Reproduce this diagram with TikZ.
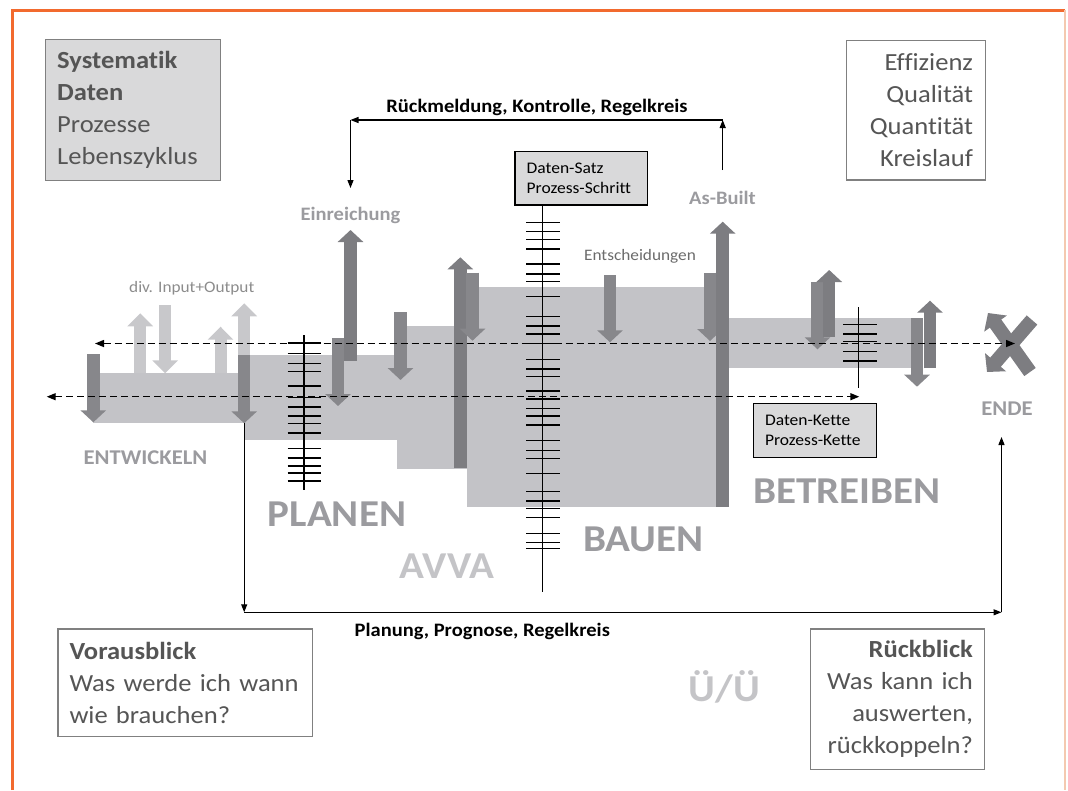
\documentclass[tikz,border=0pt]{standalone}
\usepackage{fontspec}
\setmainfont{Carlito}[FakeStretch=1.08, Ligatures=NoCommon]
\usetikzlibrary{arrows.meta,positioning}
\definecolor{frameorange}{HTML}{F26A2E}
\definecolor{framepeach}{HTML}{F4C9B0}
\definecolor{bandgray}{HTML}{C3C3C7}
\definecolor{lightbar}{HTML}{C8C8CB}
\definecolor{darkbar}{HTML}{7D7D81}
\definecolor{downbar}{HTML}{87878B}
\definecolor{phasegray}{HTML}{9B9B9F}
\definecolor{palegray}{HTML}{C4C4C7}
\definecolor{boxtext}{HTML}{555555}
\definecolor{boxfill}{HTML}{D9D9DA}
\definecolor{boxline}{HTML}{808080}

\begin{document}
\begin{tikzpicture}[x=1pt, y=-1pt,
        band/.style={fill=bandgray, draw=none},
        uparr/.style={line width=12.5pt, draw=darkbar, -{Triangle[length=12pt,width=25pt]}},
        downarr/.style={line width=12.5pt, draw=downbar, -{Triangle[length=12pt,width=25pt]}},
        ioarr/.style={line width=12pt, draw=lightbar, -{Triangle[length=13pt,width=25pt]}},
        endarr/.style={line width=14pt, draw=darkbar, -{Triangle[length=13pt,width=27pt]}},
        chainline/.style={dash pattern=on 7pt off 4pt, line width=1.4pt, {Triangle[length=9pt,width=7pt]}-{Triangle[length=9pt,width=7pt]}},
        ctrl/.style={line width=1.2pt, -{Triangle[length=8pt,width=6pt]}},
        rung/.style={line width=1.2pt},
        infobox/.style={rectangle, draw=boxline, line width=1.3pt, text=boxtext, font=\fontsize{24.6}{32}\selectfont, inner sep=0pt},
        databox/.style={rectangle, draw=black, line width=1.2pt, fill=boxfill, font=\fontsize{16.2}{20.5}\selectfont, align=left, inner sep=0pt},
        phase/.style={font=\bfseries\fontsize{38}{40}\selectfont, text=phasegray, anchor=base},
        milestone/.style={font=\bfseries\fontsize{19}{22}\selectfont, text=phasegray, anchor=base},
        loopname/.style={font=\bfseries\fontsize{19}{22}\selectfont, anchor=base},
        note/.style={font=\fontsize{16}{19}\selectfont, anchor=base},
      ]
      \useasboundingbox (0,0) rectangle (1068,790);
      \draw [frameorange, line width=3pt] (12,790) -- (12,10) -- (1065,10);
      \draw [framepeach, line width=1.5pt] (1065,10) -- (1065,790);

      \fill [band] (93,373) rectangle (245,423);
      \fill [band] (245,355) rectangle (397,440);
      \fill [band] (397,326) rectangle (467,469);
      \fill [band] (467,287) rectangle (728,507);
      \fill [band] (728,318) rectangle (912,368);

      \draw [ioarr] (140.2,373) -- (140.2,313.3);
      \draw [ioarr] (165.2,305) -- (165.2,373.3);
      \draw [ioarr] (220.5,373) -- (220.5,326.7);
      \draw [ioarr] (244.2,355) -- (244.2,303.3);

      \draw [downarr] (93.3,354.3) -- (93.3,422.3);
      \draw [downarr] (244.2,355) -- (244.2,423.3);
      \draw [uparr] (350.5,360.7) -- (350.5,230);
      \draw [downarr] (338,338.3) -- (338,406);
      \draw [downarr] (400.5,312.3) -- (400.5,380);
      \draw [uparr] (460.3,468.3) -- (460.3,257.3);
      \draw [downarr] (472.5,272.7) -- (472.5,340.7);
      \draw [downarr] (610,275) -- (610,342.3);
      \draw [downarr] (710,272.7) -- (710,341);
      \draw [uparr] (722.7,506.7) -- (722.7,221.7);
      \draw [downarr] (817.5,281.7) -- (817.5,349.3);
      \draw [uparr] (829.2,336.7) -- (829.2,270);
      \draw [downarr] (917,318.3) -- (917,386.7);
      \draw [uparr] (930,368.3) -- (930,300.7);

      \draw [endarr] (1030,372) -- (988,313);
      \draw [endarr] (1032,320) -- (987,372);

      \draw [rung] (304,335) -- (304,490);
      \foreach \y in {343,353.5,363.5,371.5,386,397.5,407,416,423.5,433,448.5,458,466,473,481}
        \draw [rung] (287.5,\y) -- (320.5,\y);
      \draw [rung] (542.7,205) -- (542.7,592);
      \foreach \y in {222.3,231.7,239.3,249,264,274,281.7,296.7,316.7,326,334,343.3,359.3,369,376.7,391,399,408.3,416,425,440.7,450.7,458.3,473.3,491.7,501,508.3,517.7,533.3,542.7,548.3}
        \draw [rung] (526,\y) -- (560,\y);
      \draw [rung] (858.3,307) -- (858.3,388);
      \foreach \y in {324.3,334,341.7,351.7,361}
        \draw [rung] (843,\y) -- (876.5,\y);

      \coordinate (chainA) at (95,343.5);
      \coordinate (chainB) at (1015,343.5);
      \coordinate (chainC) at (46.7,396.7);
      \coordinate (chainD) at (859.3,396.7);
      \draw [chainline] (chainA) -- (chainB);
      \draw [chainline] (chainC) -- (chainD);

      \node [infobox, fill=boxfill, minimum width=175pt, minimum height=141pt, text width=152pt, align=left] (systematik) at (133.2,110) {\textbf{Systematik}\\\textbf{Daten}\\Prozesse\\Lebenszyklus};
      \node [infobox, minimum width=139pt, minimum height=139.3pt, text width=113.6pt, align=right] (ziele) at (916.2,110.3) {Effizienz\\Qualität\\Quantität\\Kreislauf};
      \node [infobox, minimum width=254.8pt, minimum height=107.7pt, text width=231.6pt, align=left] (vorausblick) at (185.3,682.8) {\textbf{Vorausblick}\\Was werde ich wann\\wie brauchen?};
      \node [infobox, minimum width=173.7pt, minimum height=140.3pt, text width=150.7pt, align=right] (rueckblick) at (897.5,699.2) {\textbf{Rückblick}\\Was kann ich\\auswerten,\\rückkoppeln?};
      \node [databox, minimum width=132.7pt, minimum height=53.3pt, text width=109.3pt] (datensatz) at (581.3,178.3) {Daten-Satz\\Prozess-Schritt};
      \node [databox, minimum width=123.3pt, minimum height=54pt, text width=99.9pt] (datenkette) at (815,430.3) {Daten-Kette\\Prozess-Kette};

      \node [phase, font=\bfseries\fontsize{21}{24}\selectfont] (entwickeln) at (145.5,464) {ENTWICKELN};
      \node [phase] (planen) at (337,526.7) {PLANEN};
      \node [phase, text=palegray] (avva) at (447,578.3) {AVVA};
      \node [phase] (bauen) at (643.3,551.7) {BAUEN};
      \node [phase] (betreiben) at (847.2,503) {BETREIBEN};
      \node [phase, text=palegray] (ueue) at (724.5,701.7) {Ü/Ü};
      \node [phase, font=\bfseries\fontsize{21}{24}\selectfont] (ende) at (1007,415) {ENDE};
      \node [milestone] (einreichung) at (350.5,220) {Einreichung};
      \node [milestone] (asbuilt) at (722.5,204) {As-Built};
      \node [note, text=black!58] (entscheidungen) at (640,260) {Entscheidungen};
      \node [note, text=black!45] (io) at (191.8,292.3) {div. Input+Output};
      \node [loopname] (kontrolle) at (537,112.3) {Rückmeldung, Kontrolle, Regelkreis};
      \node [loopname] (prognose) at (482.3,636.5) {Planung, Prognose, Regelkreis};

      \coordinate (fbstart) at (722.7,170);
      \coordinate (fbright) at (722.7,120);
      \coordinate (fbleft) at (350.5,120);
      \coordinate (fbend) at (350.5,188);
      \draw [ctrl] (fbstart) -- (fbright);
      \draw [ctrl] (fbright) -- (fbleft);
      \draw [ctrl] (fbleft) -- (fbend);
      \coordinate (pgstart) at (244.2,423.3);
      \coordinate (pgleft) at (244.2,612.3);
      \coordinate (pgright) at (1001.5,612.3);
      \coordinate (pgend) at (1001.5,437);
      \draw [ctrl] (pgstart) -- (pgleft);
      \draw [ctrl] (pgleft) -- (pgright);
      \draw [ctrl] (pgright) -- (pgend);
    \end{tikzpicture}
\end{document}
